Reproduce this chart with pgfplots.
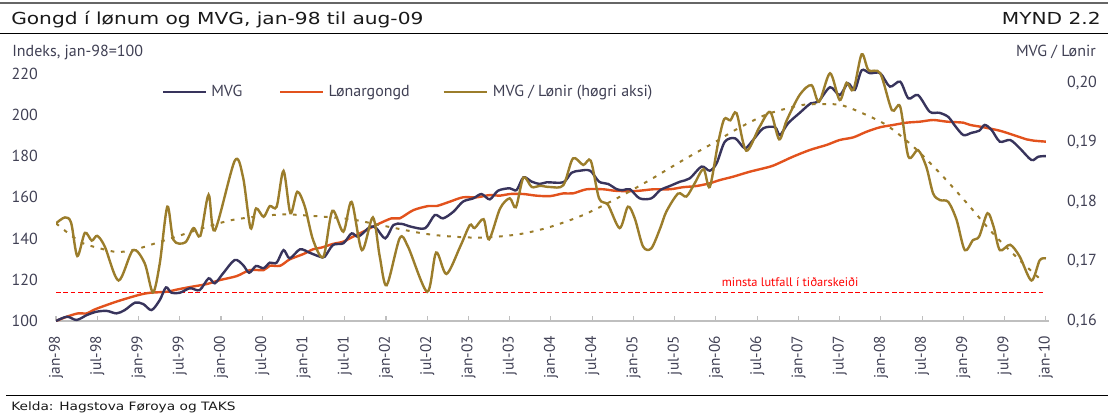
\documentclass[border=0pt]{standalone}
\usepackage{fontspec}
\setmainfont{PT Sans}
\newfontfamily\titlefont[FakeStretch=1.22]{DejaVu Sans}
\newfontfamily\footfont[FakeStretch=1.19]{DejaVu Sans}
\newfontfamily\axisfont{PT Sans}
\usepackage{pgfplots}
\pgfplotsset{compat=1.18}
\definecolor{mvgc}{RGB}{56,52,92}
\definecolor{lonc}{RGB}{226,82,29}
\definecolor{ratc}{RGB}{155,125,43}
\definecolor{txtc}{RGB}{64,64,84}
\definecolor{axc}{RGB}{191,191,191}
\definecolor{redc}{RGB}{255,0,0}

\pgfplotsset{
  base/.style={
    scale only axis, width=745pt, height=201pt,
    at={(42pt,-240.75pt)}, anchor=south west,
    xmin=0, xmax=144.5,
    /pgf/number format/assume math mode=true,
    tick label style={font=\axisfont\fontsize{12}{14}\selectfont, text=txtc},
  }
}

\begin{document}
\begin{tikzpicture}
\path[use as bounding box] (0,0) rectangle (831pt,-309pt);
\begin{scope}[x=0.75pt,y=-0.75pt]
 \draw[line width=1.5pt, black!60] (0,3) -- (1108,3);
 \node[anchor=base west, inner sep=0pt, font=\titlefont\fontsize{12.4}{14}\selectfont, text=black!90] at (11,24) {Gongd í lønum og MVG, jan-98 til aug-09};
 \node[anchor=base east, inner sep=0pt, font=\titlefont\fontsize{12.4}{14}\selectfont, text=black!90] at (1101,24) {MYND 2.2};
 \draw[line width=0.9pt, black] (0,33.5) -- (1108,33.5);
 \node[anchor=base west, inner sep=0pt, font=\axisfont\fontsize{12}{14}\selectfont, text=txtc] at (12,56) {Indeks, jan-98=100};
 \node[anchor=base east, inner sep=0pt, font=\axisfont\fontsize{12}{14}\selectfont, text=txtc] at (1096,56) {MVG / Lønir};
 \draw[line width=0.9pt, black] (6,395.5) -- (1108,395.5);
 \node[anchor=base west, inner sep=0pt, font=\footfont\fontsize{8.65}{10}\selectfont, text=black!90] at (11,410) {Kelda: Hagstova Føroya og TAKS};
\end{scope}

% ---------------- left axis: indices ----------------
\begin{axis}[base,
  ymin=100, ymax=230, ytick={100,120,140,160,180,200,220},
  axis x line*=bottom, axis y line*=left,
  y axis line style={draw=none},
  x axis line style={-, draw=axc, line width=1.2pt},
  xtick={0,6,...,144},
  xticklabels={jan-98,jul-98,jan-99,jul-99,jan-00,jul-00,jan-01,jul-01,jan-02,jul-02,jan-03,jul-03,jan-04,jul-04,jan-05,jul-05,jan-06,jul-06,jan-07,jul-07,jan-08,jul-08,jan-09,jul-09,jan-10},
  xtick align=inside, ytick align=inside,
  major tick length=3.75pt,
  xtick style={draw=axc, line width=0.8pt},
  ytick style={draw=none},
  xticklabel style={rotate=90, anchor=east, inner sep=0pt, font=\axisfont\fontsize{11.5}{13}\selectfont},
  xticklabel shift=11pt,
  yticklabel style={anchor=east, inner sep=0pt},
  yticklabel shift=13.5pt,
]
\addplot[draw=red, line width=0.9pt, dash pattern=on 3.5pt off 2pt] coordinates {(0,114.0) (144,114.0)};
\addplot[lonc, line width=1.8pt, smooth, tension=0.5] coordinates {
(0,100)(1.6,102.1)(3.2,103.7)(4.5,103.7)(5.7,105.7)(8.8,109.4)(12.0,112.6)(13.7,113.7)(16.1,114.2)(17.8,115.4)(19.7,116.6)(21.9,117.9)(23.9,119.9)(26.3,121.8)(28.2,124.7)(30.2,124.7)(31.1,126.8)(32.6,126.8)(34.0,129.9)(36.0,132.5)(37.4,134.8)(38.6,135.6)(40.3,137.4)(41.8,138.5)(43.2,140.9)(45.4,144.5)(46.6,146.6)(48.8,149.8)(50.0,149.8)(52.0,153.8)(54.2,155.8)(55.4,155.8)(57.3,157.9)(59.2,160.0)(61.2,160.0)(63.1,161.1)(64.6,160.8)(66.0,161.6)(68.0,161.6)(69.9,160.8)(71.9,160.6)(73.8,161.9)(75.2,161.9)(77.2,163.9)(79.6,163.9)(81.6,163.1)(84.5,163.1)(86.9,163.9)(89.3,163.9)(91.2,164.9)(93.2,165.5)(95.1,166.8)(96.6,168.4)(98.5,170.0)(100.9,172.4)(103.9,174.9)(105.3,176.8)(107.2,179.7)(109.7,183.0)(112.1,185.4)(114.0,187.8)(116.0,189.1)(117.9,191.8)(119.9,194.0)(121.8,195.1)(123.7,196.2)(125.7,196.7)(127.6,197.5)(129.6,196.7)(132.0,196.2)(133.0,195.1)(134.9,194.0)(137.3,192.3)(139.3,190.2)(141.2,188.1)(142.2,187.5)(144,187.0)
};
\addplot[mvgc, line width=1.8pt, smooth, tension=0.5] coordinates {
(0,100)(1.6,102.1)(3.0,100.5)(4.5,102.9)(5.9,104.5)(7.4,104.9)(8.8,103.7)(10.0,105.3)(11.5,108.9)(12.7,108.2)(13.9,105.3)(15.1,110.2)(16.0,116.3)(16.8,113.7)(18.0,113.7)(19.5,115.9)(20.9,115.0)(22.2,120.7)(23.1,118.3)(24.3,123.1)(26.0,129.6)(27.2,127.2)(28.1,123.4)(29.1,126.7)(30.2,125.6)(31.1,128.3)(32.1,128.3)(33.1,134.4)(34.0,130.4)(35.5,134.8)(36.9,133.1)(38.4,131.2)(39.1,131.2)(40.3,136.9)(41.8,137.7)(43.0,142.5)(44.0,140.9)(45.7,145.7)(46.6,145.0)(47.9,140.1)(49.1,146.6)(50.3,147.1)(51.7,145.7)(53.7,145.0)(55.1,151.4)(56.3,149.8)(57.8,153.0)(59.2,157.9)(60.7,159.5)(61.9,161.6)(63.1,159.0)(64.3,163.2)(66.0,164.4)(67.0,163.5)(68.0,169.7)(69.2,167.6)(70.4,166.5)(71.4,167.3)(73.8,167.3)(75.0,171.9)(76.2,172.9)(77.7,172.9)(79.0,167.6)(80.3,166.5)(81.6,163.9)(82.5,163.5)(83.5,163.9)(84.9,159.5)(86.6,159.5)(87.9,163.5)(89.3,165.5)(90.8,167.6)(92.2,169.2)(93.9,174.9)(95.1,172.9)(96.1,176.5)(97.3,187.0)(98.8,188.6)(100.2,183.8)(101.4,187.8)(102.9,193.5)(104.6,194.0)(105.3,190.2)(106.5,195.9)(108.2,201.0)(109.8,205.6)(110.9,206.4)(112.6,213.4)(114.0,209.6)(115.2,215.3)(116.2,212.1)(117.2,221.6)(118.4,220.2)(119.9,220.2)(121.3,213.7)(122.8,216.1)(124.0,208.0)(125.4,209.6)(127.1,201.5)(128.5,201.0)(129.8,199.0)(130.8,194.6)(132.0,190.2)(133.2,191.3)(134.3,192.3)(135.1,195.1)(136.1,192.7)(137.3,187.0)(138.8,187.8)(140.2,183.8)(141.9,178.1)(142.9,179.7)(144,180.0)
};
\end{axis}

% ---------------- right axis: ratio ----------------
\begin{axis}[base,
  ymin=0.16, ymax=0.205, ytick={0.16,0.17,0.18,0.19,0.20},
  axis y line*=right, axis x line=none,
  y axis line style={draw=none}, ytick style={draw=none}, ytick align=inside,
  yticklabel style={anchor=west, inner sep=0pt, /pgf/number format/fixed, /pgf/number format/fixed zerofill, /pgf/number format/precision=2, /pgf/number format/use comma},
  yticklabel shift=13.2pt,
  legend columns=3,
  legend cell align=left,
  legend style={at={(axis description cs:0.1067,0.8545)}, anchor=west, draw=none, fill=none, inner sep=0pt, outer sep=0pt, column sep=0pt, nodes={inner sep=0pt, font=\axisfont\fontsize{12}{14}\selectfont, text=txtc}},
  legend image code/.code={\draw[#1, line width=1.6pt] (0pt,0pt) -- (32.25pt,0pt); \path (36pt,0pt);},
]
\addlegendimage{mvgc}
\addlegendentry{\makebox[51pt][l]{MVG}}
\addlegendimage{lonc}
\addlegendentry{\makebox[85.5pt][l]{Lønargongd}}
\addplot[ratc, line width=1.8pt, smooth, tension=0.5] coordinates {
(0,0.1764)(1.3,0.1774)(2.2,0.1765)(3.1,0.1709)(4.2,0.1748)(5.2,0.1735)(6.0,0.1743)(7.1,0.1725)(9.1,0.1668)(11.2,0.1719)(12.9,0.1697)(14.1,0.1648)(15.1,0.1697)(16.2,0.1792)(17.1,0.1736)(18.8,0.1732)(20.0,0.1756)(21.0,0.1743)(22.2,0.1812)(23.1,0.1752)(26.0,0.1869)(27.2,0.1842)(28.3,0.1756)(29.1,0.1789)(30.2,0.1775)(31.1,0.1793)(32.1,0.1792)(33.1,0.1852)(34.1,0.1781)(35.1,0.1817)(36.2,0.1792)(37.4,0.1736)(38.9,0.1708)(40.2,0.1785)(41.8,0.1750)(43.0,0.1800)(44.5,0.1719)(46.1,0.1774)(47.1,0.1708)(48.1,0.1660)(50.0,0.1739)(51.2,0.1725)(54.0,0.1649)(55.3,0.1715)(56.8,0.1679)(58.8,0.1725)(60.2,0.1761)(60.9,0.1756)(62.2,0.1771)(63.0,0.1737)(64.6,0.1789)(66.0,0.1806)(66.9,0.1791)(68.0,0.1841)(69.2,0.1825)(70.4,0.1827)(71.9,0.1825)(73.8,0.1828)(75.2,0.1873)(76.7,0.1862)(77.8,0.1869)(79.0,0.1806)(80.3,0.1795)(82.0,0.1756)(83.2,0.1792)(84.2,0.1772)(85.4,0.1725)(86.6,0.1722)(87.9,0.1756)(88.8,0.1784)(90.5,0.1814)(91.7,0.1809)(92.9,0.1831)(94.2,0.1855)(95.1,0.1825)(96.3,0.1898)(97.2,0.1939)(98.1,0.1937)(99.0,0.1949)(100.4,0.1886)(102.3,0.1925)(103.9,0.1951)(105.2,0.1905)(106.3,0.1937)(108.2,0.1980)(109.9,0.1996)(111.0,0.1968)(112.6,0.2016)(114.0,0.1971)(115.0,0.2000)(116.0,0.1988)(117.2,0.2048)(118.2,0.2021)(119.9,0.2016)(121.6,0.1954)(122.8,0.1960)(124.0,0.1876)(125.4,0.1887)(126.6,0.1859)(127.6,0.1814)(128.6,0.1803)(129.8,0.1800)(131.0,0.1770)(132.2,0.1719)(133.4,0.1736)(134.3,0.1742)(135.5,0.1781)(136.4,0.1758)(137.3,0.1719)(138.8,0.1728)(140.2,0.1708)(141.9,0.1668)(143.1,0.1702)(144,0.1705)
};
\addlegendentry{MVG / Lønir (høgri aksi)}
\addplot[ratc, line width=1.5pt, dash pattern=on 2.8pt off 5pt, smooth, forget plot] coordinates {
(0,0.1764)(3.5,0.1733)(6.4,0.1722)(8.8,0.1716)(11.2,0.1719)(14.6,0.1731)(17.6,0.1742)(21.9,0.1758)(25.8,0.1770)(30.6,0.1777)(33.6,0.1779)(37.9,0.1776)(42.8,0.1771)(47.6,0.1760)(53.4,0.1747)(57.3,0.1742)(61.2,0.1740)(64.6,0.1742)(68.0,0.1747)(71.9,0.1758)(76.7,0.1778)(81.6,0.1806)(86.4,0.1837)(91.2,0.1870)(96.1,0.1902)(99.0,0.1922)(103.4,0.1947)(108.2,0.1962)(110.6,0.1964)(114.0,0.1963)(116.9,0.1951)(120.8,0.1929)(124.7,0.1893)(128.6,0.1848)(132.5,0.1798)(136.3,0.1747)(140.2,0.1702)(143.4,0.1668)
};
\node[font=\axisfont\fontsize{9.3}{11}\selectfont, text=redc, inner sep=0pt] at (axis cs:106.8,0.1666) {minsta lutfall í tiðarskeiði};
\end{axis}
\end{tikzpicture}
\end{document}
